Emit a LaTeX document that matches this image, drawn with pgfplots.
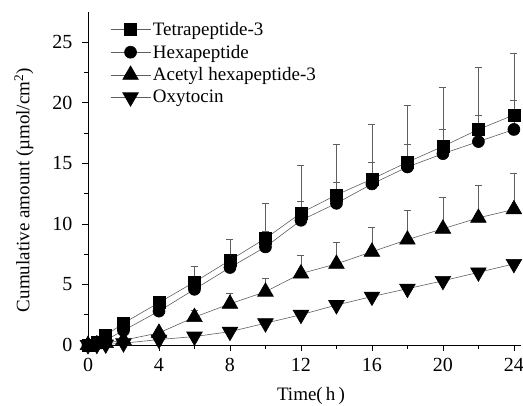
\documentclass[border=0pt]{standalone}
\usepackage{fontspec}
\setmainfont{Liberation Serif}
\usepackage{pgfplots}
\usepackage{pgfplotstable}
\pgfplotsset{compat=1.18}
\definecolor{linegray}{RGB}{95,95,95}

% time (h), mean, upper SD
\pgfplotstableread{
t    y     e
0    0     0
0.5  0.2   0.05
1    0.8   0.1
2    1.8   0.3
4    3.5   0.4
6    5.2   1.3
8    7.0   1.75
10   8.8   2.9
12   10.9  3.9
14   12.4  4.2
16   13.7  4.5
18   15.1  4.7
20   16.4  4.9
22   17.8  5.1
24   19.0  5.1
}\tetra
\pgfplotstableread{
t    y     e
0    0     0
0.5  0.15  0.05
1    0.4   0.1
2    1.2   0.2
4    2.8   0.3
6    4.6   0.7
8    6.4   0.9
10   8.1   1.3
12   10.3  1.6
14   11.7  1.7
16   13.3  1.8
18   14.7  1.9
20   15.8  2.0
22   16.8  2.2
24   17.8  2.4
}\hexa
\pgfplotstableread{
t    y     e
0    0     0
0.5  0.05  0.02
1    0.15  0.05
2    0.4   0.1
4    1.0   0.3
6    2.3   0.6
8    3.4   0.9
10   4.4   1.1
12   5.9   1.5
14   6.7   1.8
16   7.7   2.05
18   8.7   2.4
20   9.6   2.6
22   10.5  2.7
24   11.2  3.0
}\acetyl
\pgfplotstableread{
t    y     e
0    0     0
0.5  0.02  0.01
1    0.05  0.02
2    0.15  0.05
4    0.45  0.1
6    0.7   0.15
8    1.1   0.2
10   1.8   0.2
12   2.5   0.25
14   3.3   0.25
16   4.0   0.25
18   4.65  0.25
20   5.3   0.25
22   6.0   0.25
24   6.7   0.3
}\oxy

\pgfplotsset{
  series/.style={linegray, line width=0.6pt, mark options={black, solid},
    error bars/y dir=plus, error bars/y explicit,
    error bars/error bar style={linegray, line width=0.6pt},
    error bars/error mark options={rotate=90, mark size=3.5pt, linegray, line width=0.6pt}},
}

\begin{document}
\begin{tikzpicture}
\begin{axis}[
  name=ax, scale only axis,
  width=433pt, height=333pt,
  xmin=0, xmax=24.4, ymin=0, ymax=27.5,
  axis x line*=bottom, axis y line*=left,
  axis line style={line width=0.8pt},
  xtick={0,4,...,24}, minor x tick num=1,
  ytick={0,5,...,25}, minor y tick num=1,
  tick align=outside, major tick length=6pt, minor tick length=4pt,
  tick style={black, line width=0.8pt},
  /pgf/number format/assume math mode=true,
  tick label style={font=\fontsize{20}{22}\selectfont},
  xticklabel style={yshift=-4pt},
  yticklabel style={xshift=-6pt},
  label style={font=\fontsize{19}{21}\selectfont},
  xlabel={Time(\,h\,)},
  xlabel style={at={(axis description cs:0.515,0)}, anchor=north, yshift=-39pt},
  ylabel={Cumulative amount (µmol/cm\textsuperscript{2})},
  ylabel style={at={(axis description cs:-0.118,0.465)}, rotate=0, anchor=south},
  legend style={draw=none, fill=none, at={(0.044,0.982)}, anchor=north west,
    font=\fontsize{19}{21}\selectfont, row sep=4pt},
  legend cell align=left,
  legend image code/.code={
    \draw[mark repeat=2, mark phase=2] plot coordinates {(0pt,0pt) (20pt,0pt) (40pt,0pt)};
  },
]
\addplot[series, mark=square*, mark size=6pt]
  table[x=t, y=y, y error=e]{\tetra};
\addlegendentry{Tetrapeptide-3}
\addplot[series, mark=*, mark size=6pt]
  table[x=t, y=y, y error=e]{\hexa};
\addlegendentry{Hexapeptide}
\addplot[series, mark=triangle*, mark size=9pt]
  table[x=t, y=y, y error=e]{\acetyl};
\addlegendentry{Acetyl hexapeptide-3}
\addplot[series, mark=triangle*, mark size=9pt, mark options={black, solid, rotate=180}]
  table[x=t, y=y, y error=e]{\oxy};
\addlegendentry{Oxytocin}
\end{axis}
\pgfresetboundingbox
\path ([xshift=-88pt, yshift=12pt]ax.north west) rectangle ([xshift=2pt, yshift=-60pt]ax.south east);
\end{tikzpicture}
\end{document}
